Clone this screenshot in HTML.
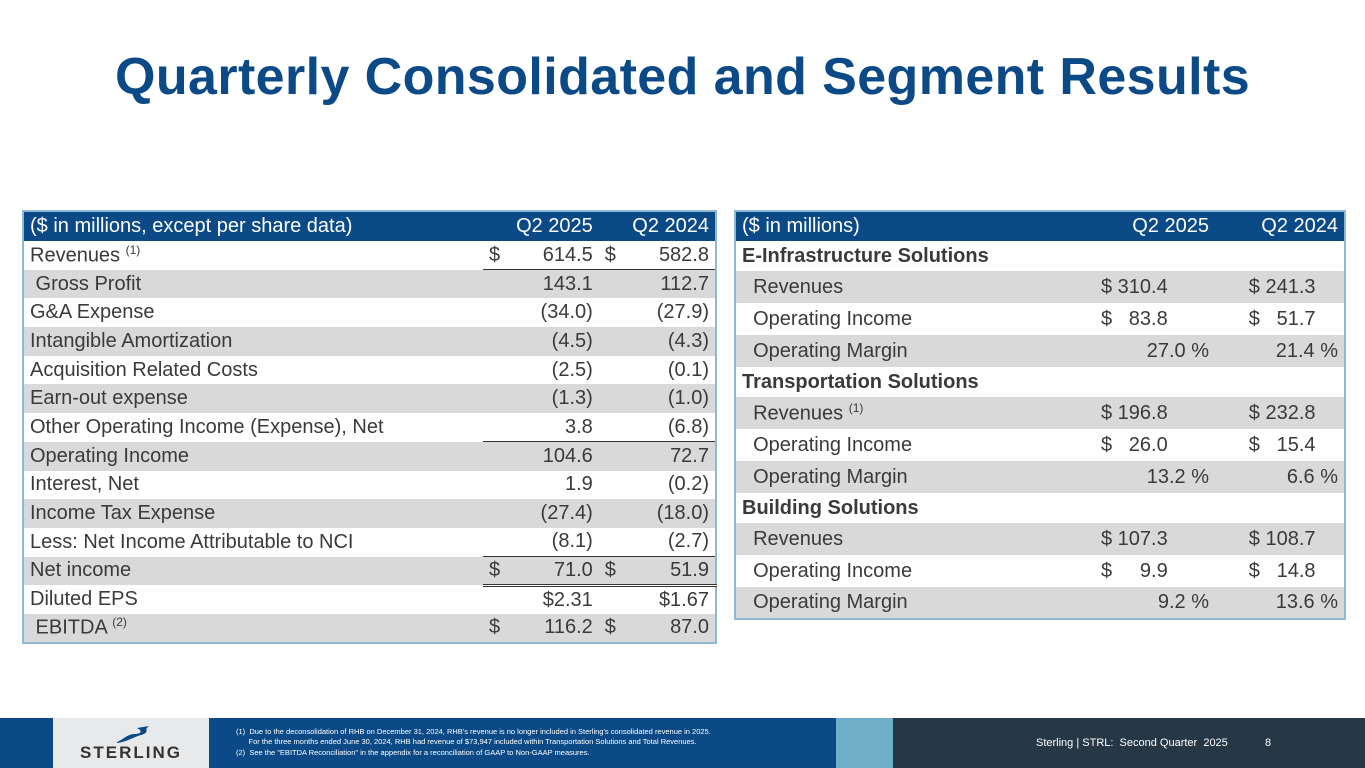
<!DOCTYPE html>
<html><head><meta charset="utf-8"><style>
body{margin:0;width:1365px;height:768px;position:relative;background:#fff;font-family:"Liberation Sans",sans-serif;overflow:hidden;color:#333}
.t{position:absolute;left:0;width:1365px;top:47px;text-align:center;font-weight:bold;font-size:52px;color:#0b4a86;letter-spacing:0.4px}
table{position:absolute;border-collapse:collapse;font-size:20px;border:2px solid #8fb8d6}
td{padding:0 6px;white-space:nowrap;color:#3a3a3a}
tr.h td{background:#0b4a86;color:#fff}
tr.g td{background:#d9d9d9}
.r{text-align:right}
.d{text-align:left;width:14px;padding-right:0}
.ul td.u{border-bottom:1.5px solid #333}
.dbl td.u{border-bottom:3px double #333}
sup{font-size:12px}
.b{font-weight:bold}
</style></head><body>
<div class="t">Quarterly Consolidated and Segment Results</div>

<table style="left:22px;top:210px;width:695px">
<colgroup><col style="width:460px"><col style="width:14px"><col><col style="width:14px"><col></colgroup>
<tr class="h" style="height:30px"><td>($ in millions, except per share data)</td><td colspan="2" class="r">Q2 2025</td><td colspan="2" class="r">Q2 2024</td></tr>
<tr class="ul" style="height:28.7px"><td>Revenues <sup>(1)</sup></td><td class="d u">$</td><td class="r u">614.5</td><td class="d u">$</td><td class="r u">582.8</td></tr>
<tr class="g" style="height:28.7px"><td>&nbsp;Gross Profit</td><td></td><td class="r">143.1</td><td></td><td class="r">112.7</td></tr>
<tr style="height:28.7px"><td>G&amp;A Expense</td><td></td><td class="r">(34.0)</td><td></td><td class="r">(27.9)</td></tr>
<tr class="g" style="height:28.7px"><td>Intangible Amortization</td><td></td><td class="r">(4.5)</td><td></td><td class="r">(4.3)</td></tr>
<tr style="height:28.7px"><td>Acquisition Related Costs</td><td></td><td class="r">(2.5)</td><td></td><td class="r">(0.1)</td></tr>
<tr class="g" style="height:28.7px"><td>Earn-out expense</td><td></td><td class="r">(1.3)</td><td></td><td class="r">(1.0)</td></tr>
<tr class="ul" style="height:28.7px"><td>Other Operating Income (Expense), Net</td><td class="u"></td><td class="r u">3.8</td><td class="u"></td><td class="r u">(6.8)</td></tr>
<tr class="g" style="height:28.7px"><td>Operating Income</td><td></td><td class="r">104.6</td><td></td><td class="r">72.7</td></tr>
<tr style="height:28.7px"><td>Interest, Net</td><td></td><td class="r">1.9</td><td></td><td class="r">(0.2)</td></tr>
<tr class="g" style="height:28.7px"><td>Income Tax Expense</td><td></td><td class="r">(27.4)</td><td></td><td class="r">(18.0)</td></tr>
<tr class="ul" style="height:28.7px"><td>Less: Net Income Attributable to NCI</td><td class="u"></td><td class="r u">(8.1)</td><td class="u"></td><td class="r u">(2.7)</td></tr>
<tr class="g dbl" style="height:28.7px"><td>Net income</td><td class="d u">$</td><td class="r u">71.0</td><td class="d u">$</td><td class="r u">51.9</td></tr>
<tr style="height:28.7px"><td>Diluted EPS</td><td></td><td class="r">$2.31</td><td></td><td class="r">$1.67</td></tr>
<tr class="g" style="height:28.7px"><td>&nbsp;EBITDA <sup>(2)</sup></td><td class="d">$</td><td class="r">116.2</td><td class="d">$</td><td class="r">87.0</td></tr>
</table>

<table style="left:734px;top:210px;width:612px">
<colgroup><col style="width:360px"><col style="width:120px"><col></colgroup>
<tr class="h" style="height:30px"><td>($ in millions)</td><td class="r">Q2 2025</td><td class="r">Q2 2024</td></tr>
<tr style="height:30px"><td class="b">E-Infrastructure Solutions</td><td></td><td></td></tr>
<tr class="g" style="height:32px"><td>&nbsp;&nbsp;Revenues</td><td>$ 310.4</td><td>&nbsp;&nbsp;&nbsp;&nbsp;&nbsp;$ 241.3</td></tr>
<tr style="height:32px"><td>&nbsp;&nbsp;Operating Income</td><td>$&nbsp;&nbsp;&nbsp;83.8</td><td>&nbsp;&nbsp;&nbsp;&nbsp;&nbsp;$&nbsp;&nbsp;&nbsp;51.7</td></tr>
<tr class="g" style="height:32px"><td>&nbsp;&nbsp;Operating Margin</td><td class="r">27.0 %</td><td class="r">21.4 %</td></tr>
<tr style="height:30px"><td class="b">Transportation Solutions</td><td></td><td></td></tr>
<tr class="g" style="height:32px"><td>&nbsp;&nbsp;Revenues <sup>(1)</sup></td><td>$ 196.8</td><td>&nbsp;&nbsp;&nbsp;&nbsp;&nbsp;$ 232.8</td></tr>
<tr style="height:32px"><td>&nbsp;&nbsp;Operating Income</td><td>$&nbsp;&nbsp;&nbsp;26.0</td><td>&nbsp;&nbsp;&nbsp;&nbsp;&nbsp;$&nbsp;&nbsp;&nbsp;15.4</td></tr>
<tr class="g" style="height:32px"><td>&nbsp;&nbsp;Operating Margin</td><td class="r">13.2 %</td><td class="r">6.6 %</td></tr>
<tr style="height:30px"><td class="b">Building Solutions</td><td></td><td></td></tr>
<tr class="g" style="height:32px"><td>&nbsp;&nbsp;Revenues</td><td>$ 107.3</td><td>&nbsp;&nbsp;&nbsp;&nbsp;&nbsp;$ 108.7</td></tr>
<tr style="height:32px"><td>&nbsp;&nbsp;Operating Income</td><td>$&nbsp;&nbsp;&nbsp;&nbsp;&nbsp;9.9</td><td>&nbsp;&nbsp;&nbsp;&nbsp;&nbsp;$&nbsp;&nbsp;&nbsp;14.8</td></tr>
<tr class="g" style="height:32px"><td>&nbsp;&nbsp;Operating Margin</td><td class="r">9.2 %</td><td class="r">13.6 %</td></tr>
</table>

<div style="position:absolute;left:0;top:718px;width:1365px;height:50px;background:#0b4a86"></div>
<div style="position:absolute;left:893px;top:718px;width:472px;height:50px;background:#263746"></div>
<div style="position:absolute;left:836px;top:718px;width:57px;height:50px;background:#6fb0c8"></div>
<div style="position:absolute;left:53px;top:718px;width:156px;height:50px;background:#e8e9ea">
<svg width="40" height="22" style="position:absolute;left:60px;top:4px" viewBox="0 0 40 22"><path d="M4 20 C10 18 14 12 22 12 C28 12 30 9 24 6 L36 4 C30 8 38 10 28 13 C18 16 14 20 4 21Z" fill="#0b4a86"/></svg>
<div style="position:absolute;left:0;width:156px;top:25px;text-align:center;font-weight:bold;font-size:17px;letter-spacing:2px;color:#333">STERLING</div>
</div>
<div style="position:absolute;left:236px;top:727px;font-size:7.5px;color:#fff;line-height:9.5px">
(1)&nbsp; Due to the deconsolidation of RHB on December 31, 2024, RHB's revenue is no longer included in Sterling's consolidated revenue in 2025.<br>
&nbsp;&nbsp;&nbsp;&nbsp;&nbsp;&nbsp;For the three months ended June 30, 2024, RHB had revenue of $73,947 included within Transportation Solutions and Total Revenues.<br>
<span style="display:block;margin-top:2px">(2)&nbsp; See the "EBITDA Reconciliation" in the appendix for a reconciliation of GAAP to Non-GAAP measures.</span>
</div>
<div style="position:absolute;left:1036px;top:737px;font-size:11px;color:#fff">Sterling | STRL:&nbsp; Second Quarter&nbsp; 2025</div>
<div style="position:absolute;left:1265px;top:737px;font-size:11px;color:#fff">8</div>
</body></html>
